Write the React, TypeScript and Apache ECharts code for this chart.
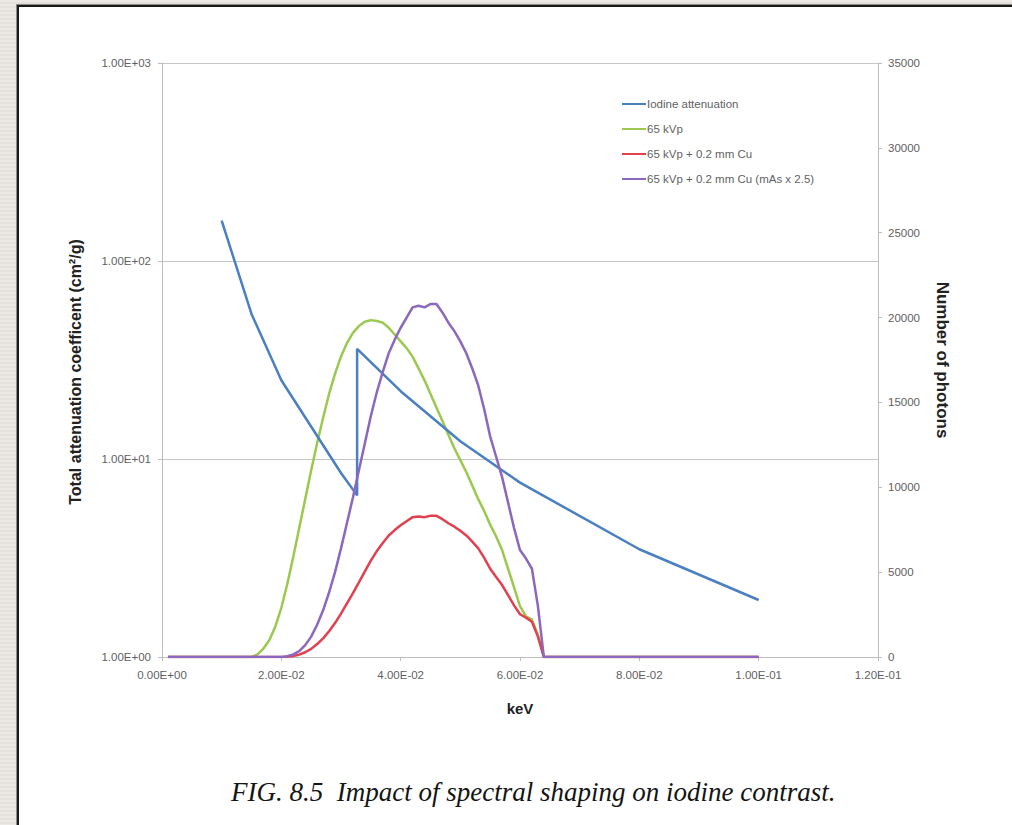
import React, { useEffect, useRef } from "react";
import * as echarts from "echarts";

// Iodine total attenuation coefficient (cm^2/g) vs energy (x axis labelled "keV", values in MeV)
const iodineX = [0.01, 0.015, 0.02, 0.03, 0.0327, 0.0327, 0.04, 0.05, 0.06, 0.08, 0.1];
const iodineY = [160, 54, 25, 8.5, 6.55, 36, 22, 12.3, 7.6, 3.5, 1.94];

// Spectra (number of photons) sampled per keV
const spectrumKeV = [
  1, 15, 16, 17, 18, 19, 20, 21, 22, 23, 24, 25, 26, 27, 28, 29, 30, 31, 32, 33, 34, 35, 36, 37, 38, 39,
  40, 41, 42, 43, 44, 45, 46, 47, 48, 49, 50, 51, 52, 53, 54, 55, 56, 57, 58, 59, 60, 61, 62, 63, 64, 100,
];
const kvp65 = [
  0, 0, 150, 500, 1000, 1800, 2900, 4300, 5900, 7600, 9300, 11000, 12600, 14100, 15500, 16700, 17700, 18500,
  19100, 19500, 19750, 19850, 19800, 19700, 19400, 19000, 18600, 18200, 17700, 17000, 16300, 15500, 14700,
  13900, 13100, 12300, 11600, 10900, 10100, 9300, 8600, 7800, 7100, 6300, 5200, 4100, 3000, 2400, 2200, 1300,
  0, 0,
];
const kvp65Cu = [
  0, 0, 0, 0, 0, 0, 0, 20, 60, 140, 280, 480, 760, 1100, 1520, 2000, 2560, 3160, 3760, 4400, 5040, 5680, 6240,
  6720, 7160, 7480, 7760, 8000, 8240, 8280, 8240, 8320, 8320, 8120, 7880, 7680, 7440, 7160, 6800, 6400, 5840,
  5200, 4720, 4240, 3640, 3040, 2520, 2320, 2080, 1200, 0, 0,
];
const kvp65CuMas = [
  0, 0, 0, 0, 0, 0, 0, 50, 150, 350, 700, 1200, 1900, 2750, 3800, 5000, 6400, 7900, 9400, 11000, 12600, 14200,
  15600, 16800, 17900, 18700, 19400, 20000, 20600, 20700, 20600, 20800, 20800, 20300, 19700, 19200, 18600,
  17900, 17000, 16000, 14600, 13000, 11800, 10600, 9100, 7600, 6300, 5800, 5200, 3000, 0, 0,
];

const seriesNames = [
  "Iodine attenuation",
  "65 kVp",
  "65 kVp + 0.2 mm Cu",
  "65 kVp + 0.2 mm Cu (mAs x 2.5)",
];
const seriesColors = ["#4a7fc1", "#9bc94f", "#e2404e", "#8b68bd"];

const xTicks = { min: 0, max: 0.12, interval: 0.02 };
const rightTicks = { min: 0, max: 35000, interval: 5000 };

function sci(v: number): string {
  const s = Number(v).toExponential(2);
  const [m, e] = s.split("e");
  const n = parseInt(e, 10);
  return m + "E" + (n < 0 ? "-" : "+") + String(Math.abs(n)).padStart(2, "0");
}

const tickFont = "'Liberation Sans', Arial, sans-serif";
const tickColor = "#5f5f5f";
const tickSize = 11.5;

export default function App() {
  const ref = useRef<HTMLDivElement>(null);
  useEffect(() => {
    if (!ref.current) return;
    const chart = echarts.init(ref.current, undefined, { renderer: "svg" });
    const spec = (vals: number[]) => spectrumKeV.map((k, i) => [k / 1000, vals[i]]);
    chart.setOption({
      animation: false,
      backgroundColor: "transparent",
      grid: { left: 162, right: 134, top: 63, bottom: 168, containLabel: false },
      legend: {
        orient: "vertical",
        left: 617,
        top: 93,
        itemWidth: 24,
        itemHeight: 2,
        itemGap: 13,
        icon: "rect",
        data: seriesNames,
        textStyle: { color: tickColor, fontSize: 11.5, fontFamily: tickFont, padding: [0, 0, 0, -4] },
      },
      xAxis: {
        type: "value",
        min: xTicks.min,
        max: xTicks.max,
        interval: xTicks.interval,
        name: "keV",
        nameLocation: "middle",
        nameGap: 44,
        nameTextStyle: { fontWeight: "bold", fontSize: 15, color: "#222", fontFamily: tickFont },
        axisLine: { onZero: false, lineStyle: { color: "#bdbdbd", width: 1 } },
        axisTick: { show: true, inside: false, length: 4, lineStyle: { color: "#bdbdbd" } },
        axisLabel: { formatter: sci, color: tickColor, fontSize: tickSize, fontFamily: tickFont, margin: 12 },
        splitLine: { show: false },
      },
      yAxis: [
        {
          type: "log",
          logBase: 10,
          min: 1,
          max: 1000,
          position: "left",
          name: "Total attenuation coefficent (cm²/g)",
          nameLocation: "middle",
          nameGap: 79,
          nameRotate: 90,
          nameTextStyle: {
            fontWeight: "bold",
            fontSize: 16,
            color: "#222",
            fontFamily: tickFont,
            padding: [0, 24, 0, 0],
          },
          axisLine: { show: true, lineStyle: { color: "#bdbdbd", width: 1 } },
          axisTick: { show: true, length: 4, lineStyle: { color: "#bdbdbd" } },
          axisLabel: { formatter: sci, color: tickColor, fontSize: tickSize, fontFamily: tickFont, margin: 11 },
          splitLine: { show: true, lineStyle: { color: "#c6c6c6", width: 1 } },
          minorTick: { show: false },
        },
        {
          type: "value",
          min: rightTicks.min,
          max: rightTicks.max,
          interval: rightTicks.interval,
          position: "right",
          name: "Number of photons",
          nameLocation: "middle",
          nameGap: 56,
          nameRotate: -90,
          nameTextStyle: { fontWeight: "bold", fontSize: 17, color: "#222", fontFamily: tickFont },
          axisLine: { show: true, lineStyle: { color: "#bdbdbd", width: 1 } },
          axisTick: { show: true, length: 4, lineStyle: { color: "#bdbdbd" } },
          axisLabel: {
            formatter: (v: number) => String(v),
            color: tickColor,
            fontSize: tickSize,
            fontFamily: tickFont,
            margin: 10,
          },
          splitLine: { show: false },
        },
      ],
      series: [
        {
          name: seriesNames[0],
          type: "line",
          yAxisIndex: 0,
          symbol: "none",
          color: seriesColors[0],
          lineStyle: { width: 2.5, color: seriesColors[0] },
          data: iodineX.map((x, i) => [x, iodineY[i]]),
          z: 3,
        },
        {
          name: seriesNames[1],
          type: "line",
          yAxisIndex: 1,
          symbol: "none",
          color: seriesColors[1],
          lineStyle: { width: 2.5, color: seriesColors[1] },
          data: spec(kvp65),
          z: 2,
        },
        {
          name: seriesNames[2],
          type: "line",
          yAxisIndex: 1,
          symbol: "none",
          color: seriesColors[2],
          lineStyle: { width: 2.5, color: seriesColors[2] },
          data: spec(kvp65Cu),
          z: 2,
        },
        {
          name: seriesNames[3],
          type: "line",
          yAxisIndex: 1,
          symbol: "none",
          color: seriesColors[3],
          lineStyle: { width: 2.5, color: seriesColors[3] },
          data: spec(kvp65CuMas),
          z: 4,
        },
      ],
      graphic: [
        {
          type: "text",
          left: 231,
          top: 778,
          style: {
            text: "FIG. 8.5  Impact of spectral shaping on iodine contrast.",
            font: "italic 27px 'Liberation Serif', 'Times New Roman', serif",
            fill: "#151515",
          },
        },
      ],
    });
    return () => chart.dispose();
  }, []);

  return (
    <div
      style={{
        position: "fixed",
        left: 0,
        top: 0,
        width: 1012,
        height: 825,
        overflow: "hidden",
        background: "repeating-linear-gradient(to bottom, #ece9e4 0px, #ece9e4 2px, #e4e0da 2px, #e4e0da 4px)",
      }}
    >
      <div
        style={{
          position: "absolute",
          left: 17,
          top: 5,
          width: 1012,
          height: 830,
          background: "#ffffff",
          borderLeft: "2px solid #1a1a1a",
          borderTop: "2px solid #1a1a1a",
          boxShadow: "-1px -1px 0 #8a8a8a",
        }}
      />
      <div ref={ref} style={{ position: "absolute", left: 0, top: 0, width: 1012, height: 825 }} />
    </div>
  );
}
